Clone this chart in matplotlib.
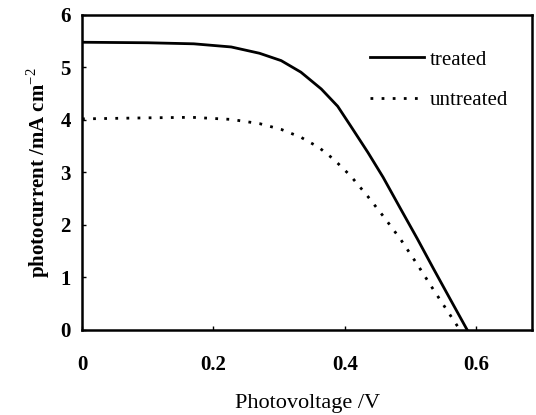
import numpy as np
import matplotlib
matplotlib.use("Agg")
import matplotlib.pyplot as plt

# J-V curves
v_treated = [0.0, 0.10, 0.17, 0.227, 0.27, 0.303, 0.333, 0.364, 0.389, 0.409, 0.435, 0.458, 0.485, 0.51, 0.535, 0.56, 0.586]
i_treated = [5.48, 5.47, 5.45, 5.39, 5.27, 5.13, 4.91, 4.59, 4.26, 3.88, 3.38, 2.91, 2.30, 1.74, 1.16, 0.59, 0.0]

v_untreated = [0.0, 0.05, 0.10, 0.167, 0.227, 0.27, 0.303, 0.333, 0.36, 0.383, 0.409, 0.435, 0.46, 0.485, 0.51, 0.535, 0.555, 0.575]
i_untreated = [4.02, 4.03, 4.04, 4.05, 4.01, 3.93, 3.82, 3.67, 3.48, 3.25, 2.93, 2.54, 2.14, 1.72, 1.25, 0.76, 0.38, 0.0]

xticks = [0, 0.2, 0.4, 0.6]
xticklabels = ["0", "0.2", "0.4", "0.6"]
yticks = [0, 1, 2, 3, 4, 5, 6]

plt.rcParams["font.family"] = ["Liberation Serif", "DejaVu Serif"]
plt.rcParams["mathtext.fontset"] = "custom"
plt.rcParams["mathtext.rm"] = "Liberation Serif"
plt.rcParams["mathtext.bf"] = "Liberation Serif:bold"

fig = plt.figure(figsize=(5.36, 4.15), dpi=100)
ax = fig.add_axes([0.153, 0.205, 0.840, 0.759])

ax.plot(v_treated, i_treated, color="black", lw=2.0, label="treated")
ax.plot(v_untreated, i_untreated, color="black", lw=2.0, ls=(0, (1, 3)), label="untreated")

ax.set_xlim(0, 0.685)
ax.set_ylim(0, 6)
ax.set_xticks(xticks)
ax.set_xticklabels(xticklabels)
ax.set_yticks(yticks)
for lab in ax.get_xticklabels() + ax.get_yticklabels():
    lab.set_fontweight("bold")
    lab.set_fontsize(15)
ax.tick_params(direction="in", length=3, width=1)
ax.tick_params(axis="x", pad=18)
ax.tick_params(axis="y", pad=8)

for s in ax.spines.values():
    s.set_linewidth(1.8)

ax.set_xlabel("Photovoltage /V", fontsize=16, labelpad=14)
ax.set_ylabel("photocurrent /mA cm$^{-2}$", fontsize=15, fontweight="bold", labelpad=6)

ax.legend(loc="upper right", frameon=False, fontsize=15, handlelength=2.6,
          handletextpad=0.25, bbox_to_anchor=(0.987, 0.948), labelspacing=1.0)

fig.savefig("out.png", dpi=100)
